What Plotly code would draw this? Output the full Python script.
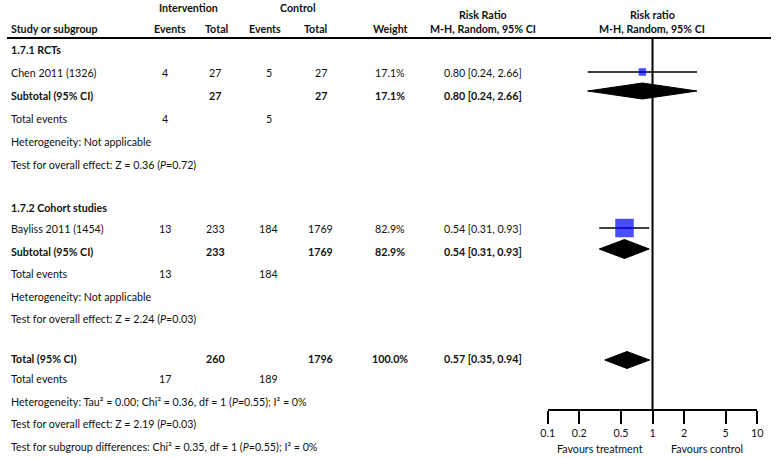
import plotly.graph_objects as go

# ---------------- data ----------------
studies = ["Chen 2011 (1326)", "Bayliss 2011 (1454)"]
int_events = [4, 13]
int_total = [27, 233]
ctl_events = [5, 184]
ctl_total = [27, 1769]
weights = ["17.1%", "82.9%"]
rr = [0.80, 0.54]
rr_lo = [0.24, 0.31]
rr_hi = [2.66, 0.93]

subgroups = ["1.7.1 RCTs", "1.7.2 Cohort studies"]
sub_int_total = [27, 233]
sub_ctl_total = [27, 1769]
sub_int_events = [4, 13]
sub_ctl_events = [5, 184]
sub_weight = ["17.1%", "82.9%"]
sub_rr = [0.80, 0.54]
sub_lo = [0.24, 0.31]
sub_hi = [2.66, 0.93]
sub_het = ["Heterogeneity: Not applicable", "Heterogeneity: Not applicable"]
sub_test = ["Test for overall effect: Z = 0.36 (<i>P</i>=0.72)",
            "Test for overall effect: Z = 2.24 (<i>P</i>=0.03)"]

tot_int_total = 260
tot_ctl_total = 1796
tot_int_events = 17
tot_ctl_events = 189
tot_weight = "100.0%"
tot_rr, tot_lo, tot_hi = 0.57, 0.35, 0.94
tot_lines = ["Heterogeneity: Tau² = 0.00; Chi² = 0.36, df = 1 (<i>P</i>=0.55); I² = 0%",
             "Test for overall effect: Z = 2.19 (<i>P</i>=0.03)",
             "Test for subgroup differences: Chi² = 0.35, df = 1 (<i>P</i>=0.55); I² = 0%"]

tick_vals = [0.1, 0.2, 0.5, 1, 2, 5, 10]
tick_text = ["0.1", "0.2", "0.5", "1", "2", "5", "10"]

# ---------------- layout (pixel positions) ----------------
W, H = 777, 458
FONT = "Lato"
FS = 10.7
COL = "#111111"

# column centres (px)
cx_lab = 2
cx_ie, cx_it, cx_ce, cx_ct, cx_w, cx_rr, cx_forest = 161, 212, 266, 319, 390, 484, 656

# row positions (px from top)
y_study = [72, 228]
y_sub = [95, 251]
y_sub_diamond = [91, 249]
y_head = [49, 207]
y_te = [118, 273]
y_het = [141, 296]
y_test = [164, 318]
y_tot = 358
y_tot_diamond = 360
y_tot_lines = [378, 401, 423, 446]  # total events, het, test, subgroup
y_rule = 38
y_axis = 410
diamond_half = [8, 9.5]
tot_diamond_half = 8.5
sq_size = [7.5, 18.5]

fig = go.Figure()
ann = []


def txt(x, y, s, bold=False, align="center", size=FS):
    if bold:
        s = "<b>" + s + "</b>"
    ann.append(dict(x=x / W, y=y, xref="paper", yref="y", text=s, showarrow=False,
                    xanchor=align, yanchor="middle",
                    font=dict(family=FONT, size=size, color=COL)))


# headers
txt(185, 7, "Intervention", True)
txt(296, 7, "Control", True)
txt(cx_rr, 14, "Risk Ratio", True)
txt(cx_forest, 14, "Risk ratio", True)
txt(cx_lab, 28, "Study or subgroup", True, "left")
txt(166, 28, "Events", True)
txt(213, 28, "Total", True)
txt(262, 28, "Events", True)
txt(314, 28, "Total", True)
txt(cx_w, 28, "Weight", True)
txt(cx_rr, 28, "M-H, Random, 95% CI", True)
txt(cx_forest, 28, "M-H, Random, 95% CI", True)

for i in range(len(studies)):
    txt(cx_lab, y_head[i], subgroups[i], True, "left")
    # study row
    txt(cx_lab, y_study[i], studies[i], False, "left")
    txt(cx_ie, y_study[i], str(int_events[i]))
    txt(cx_it, y_study[i], str(int_total[i]))
    txt(cx_ce, y_study[i], str(ctl_events[i]))
    txt(cx_ct, y_study[i], str(ctl_total[i]))
    txt(cx_w, y_study[i], weights[i])
    txt(cx_rr, y_study[i], f"{rr[i]:.2f} [{rr_lo[i]:.2f}, {rr_hi[i]:.2f}]")
    # subtotal row
    txt(cx_lab, y_sub[i], "Subtotal (95% CI)", True, "left")
    txt(cx_it, y_sub[i], str(sub_int_total[i]), True)
    txt(cx_ct, y_sub[i], str(sub_ctl_total[i]), True)
    txt(cx_w, y_sub[i], sub_weight[i], True)
    txt(cx_rr, y_sub[i], f"{sub_rr[i]:.2f} [{sub_lo[i]:.2f}, {sub_hi[i]:.2f}]", True)
    txt(cx_lab, y_te[i], "Total events", False, "left")
    txt(cx_ie, y_te[i], str(sub_int_events[i]))
    txt(cx_ce, y_te[i], str(sub_ctl_events[i]))
    txt(cx_lab, y_het[i], sub_het[i], False, "left")
    txt(cx_lab, y_test[i], sub_test[i], False, "left")

# overall
txt(cx_lab, y_tot, "Total (95% CI)", True, "left")
txt(cx_it, y_tot, str(tot_int_total), True)
txt(cx_ct, y_tot, str(tot_ctl_total), True)
txt(cx_w, y_tot, tot_weight, True)
txt(cx_rr, y_tot, f"{tot_rr:.2f} [{tot_lo:.2f}, {tot_hi:.2f}]", True)
txt(cx_lab, y_tot_lines[0], "Total events", False, "left")
txt(cx_ie, y_tot_lines[0], str(tot_int_events))
txt(cx_ce, y_tot_lines[0], str(tot_ctl_events))
for k, s in enumerate(tot_lines):
    txt(cx_lab, y_tot_lines[k + 1], s, False, "left")

txt(603, 448, "Favours treatment")
txt(712, 448, "Favours control")

# ---------------- forest marks ----------------
# null line
fig.add_trace(go.Scatter(x=[1, 1], y=[y_rule, y_axis], mode="lines",
                         line=dict(color="black", width=2), hoverinfo="skip"))
# CI lines
for i in range(len(studies)):
    fig.add_trace(go.Scatter(x=[rr_lo[i], rr_hi[i]], y=[y_study[i], y_study[i]], mode="lines",
                             line=dict(color="black", width=1.6), hoverinfo="skip"))
# squares
fig.add_trace(go.Scatter(x=rr, y=y_study, mode="markers",
                         marker=dict(symbol="square", color="#0000FF", size=sq_size,
                                     line=dict(width=0)), hoverinfo="skip"))


def diamond(lo, est, hi, yc, h):
    fig.add_trace(go.Scatter(x=[lo, est, hi, est, lo], y=[yc, yc - h, yc, yc + h, yc],
                             mode="lines", fill="toself", fillcolor="black",
                             line=dict(color="black", width=1), hoverinfo="skip"))


for i in range(len(subgroups)):
    diamond(sub_lo[i], sub_rr[i], sub_hi[i], y_sub_diamond[i], diamond_half[i])
diamond(tot_lo, tot_rr, tot_hi, y_tot_diamond, tot_diamond_half)

fig.add_shape(type="line", xref="paper", yref="y", x0=0, x1=1, y0=y_rule, y1=y_rule,
              line=dict(color="black", width=2))

fig.update_layout(
    width=W, height=H, margin=dict(l=0, r=0, t=0, b=0),
    paper_bgcolor="white", plot_bgcolor="white", showlegend=False,
    annotations=ann,
    xaxis=dict(type="log", range=[-1, 1], domain=[550 / W, 763 / W],
               anchor="free", position=1 - y_axis / H,
               showline=True, linecolor="black", linewidth=2,
               ticks="outside", ticklen=13, tickwidth=2, tickcolor="black",
               tickvals=tick_vals, ticktext=tick_text, showgrid=False, zeroline=False,
               tickfont=dict(family=FONT, size=FS, color=COL), fixedrange=True),
    yaxis=dict(range=[H, 0], domain=[0, 1], visible=False, fixedrange=True),
)

fig.write_html("out.html", config={"displayModeBar": False},
               post_script="document.body.style.margin='0';document.body.style.overflow='hidden';")
